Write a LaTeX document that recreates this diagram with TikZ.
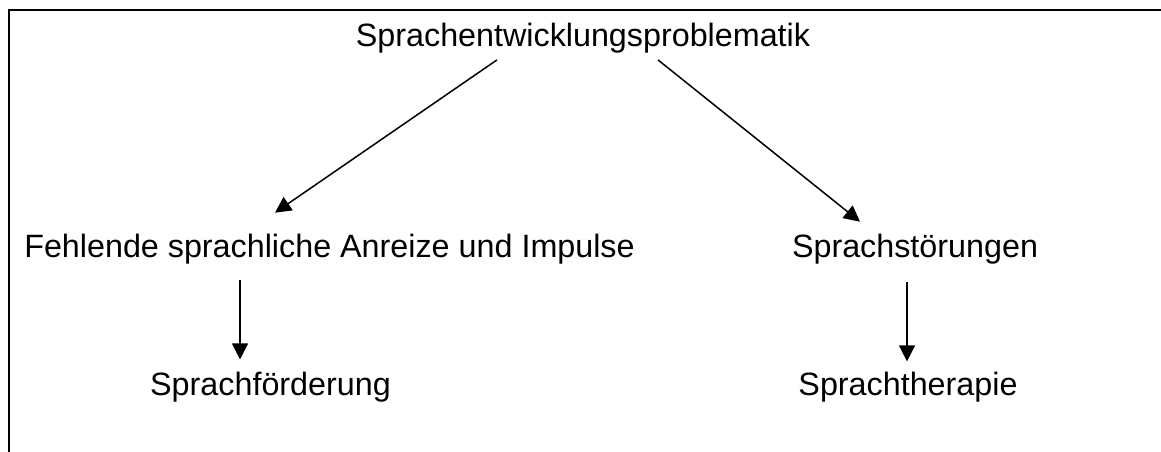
\documentclass[tikz,border=0pt]{standalone}
\usepackage{fontspec}
\setmainfont{Liberation Sans}
\usetikzlibrary{arrows.meta,calc}
\begin{document}
\begin{tikzpicture}[x=1pt,y=-1pt,
  lbl/.style={inner sep=0pt,anchor=base,font=\fontsize{32.3}{38}\selectfont},
  arr/.style={-{Triangle[length=16pt,width=16pt]},line width=1.5pt},
  frame/.style={line width=2pt}]
\useasboundingbox (0,0) rectangle (1161,452);
\draw[frame] (9,452) -- (9,10) -- (1161,10);
\node[lbl] (top) at (583,47) {Sprachentwicklungsproblematik};
\node[lbl] (left) at (329.5,257) {Fehlende sprachliche Anreize und Impulse};
\node[lbl] (right) at (915,257) {Sprachstörungen};
\node[lbl] (lf) at (270.5,395) {Sprachförderung};
\node[lbl] (rf) at (908,395) {Sprachtherapie};
\draw[arr] ($(top.south)+(-86,6)$) -- ($(left.north)+(-54.5,-20.7)$);
\draw[arr] ($(top.south)+(75,6)$) -- ($(right.north)+(-55,-11.7)$);
\draw[arr] ($(left.south)+(-89.5,16)$) -- ($(lf.north)+(-30.5,-12)$);
\draw[arr] ($(right.south)+(-8,18)$) -- ($(rf.north)+(-1,-10)$);
\end{tikzpicture}
\end{document}
